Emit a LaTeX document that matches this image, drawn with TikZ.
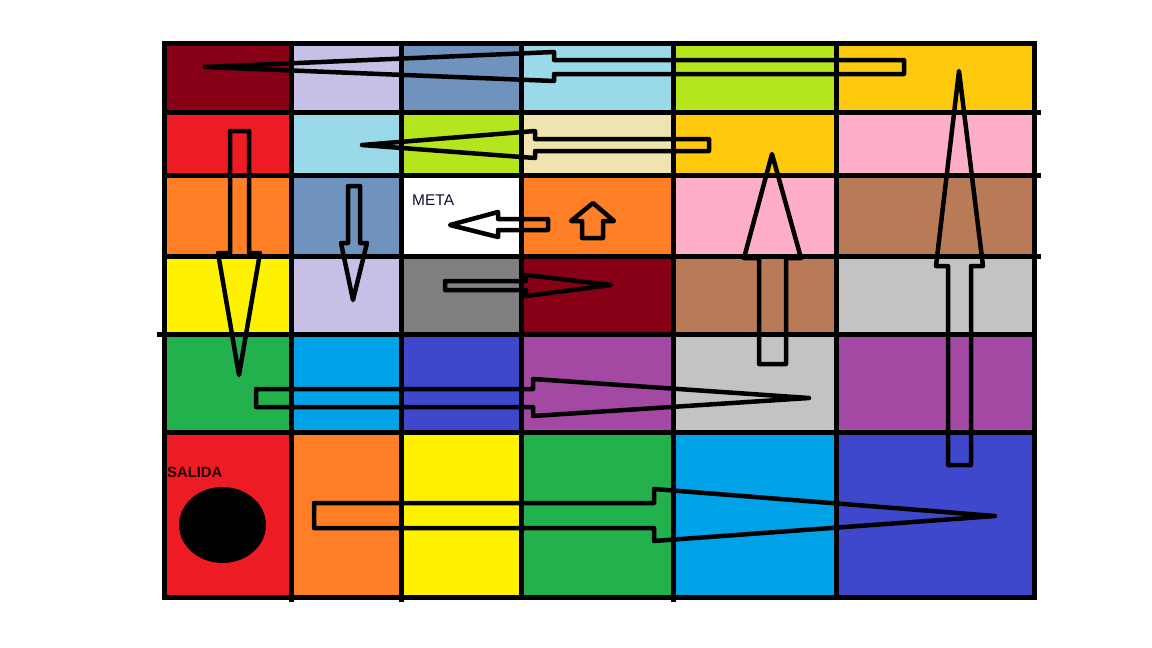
\documentclass[tikz,border=0pt]{standalone}
\usepackage{fontspec}
\setmainfont{Liberation Sans}
\definecolor{cDarkRed}{HTML}{880015}
\definecolor{cLavender}{HTML}{C8BFE7}
\definecolor{cBlueGray}{HTML}{7092BE}
\definecolor{cLTurq}{HTML}{99D9EA}
\definecolor{cLime}{HTML}{B5E61D}
\definecolor{cGold}{HTML}{FFC90E}
\definecolor{cRed}{HTML}{ED1C24}
\definecolor{cLYellow}{HTML}{EFE4B0}
\definecolor{cPink}{HTML}{FFAEC9}
\definecolor{cOrange}{HTML}{FF7F27}
\definecolor{cBrown}{HTML}{B97A57}
\definecolor{cYellow}{HTML}{FFF200}
\definecolor{cGray}{HTML}{7F7F7F}
\definecolor{cLGray}{HTML}{C3C3C3}
\definecolor{cGreen}{HTML}{22B14C}
\definecolor{cTurq}{HTML}{00A2E8}
\definecolor{cIndigo}{HTML}{3F48CC}
\definecolor{cPurple}{HTML}{A349A4}
\begin{document}
\begin{tikzpicture}[x=1pt,y=-1pt,
  gridline/.style={draw=black,line width=5pt},
  blockarrow/.style={draw=black,line width=4.5pt,line join=round}]
\useasboundingbox (0,0) rectangle (1152,648);
\fill[white] (0,0) rectangle (1152,648);
% row 1
\fill[cDarkRed]  (164.5,43.5) rectangle (291,112.5);
\fill[cLavender] (291,43.5) rectangle (401,112.5);
\fill[cBlueGray] (401,43.5) rectangle (521,112.5);
\fill[cLTurq]    (521,43.5) rectangle (673.5,112.5);
\fill[cLime]     (673.5,43.5) rectangle (836.5,112.5);
\fill[cGold]     (836.5,43.5) rectangle (1034,112.5);
% row 2
\fill[cRed]      (164.5,112.5) rectangle (291,175);
\fill[cLTurq]    (291,112.5) rectangle (401,175);
\fill[cLime]     (401,112.5) rectangle (521,175);
\fill[cLYellow]  (521,112.5) rectangle (673.5,175);
\fill[cGold]     (673.5,112.5) rectangle (836.5,175);
\fill[cPink]     (836.5,112.5) rectangle (1034,175);
% row 3
\fill[cOrange]   (164.5,175) rectangle (291,256);
\fill[cBlueGray] (291,175) rectangle (401,256);
\fill[white]     (401,175) rectangle (521,256);
\fill[cOrange]   (521,175) rectangle (673.5,256);
\fill[cPink]     (673.5,175) rectangle (836.5,256);
\fill[cBrown]    (836.5,175) rectangle (1034,256);
% row 4
\fill[cYellow]   (164.5,256) rectangle (291,334.5);
\fill[cLavender] (291,256) rectangle (401,334.5);
\fill[cGray]     (401,256) rectangle (521,334.5);
\fill[cDarkRed]  (521,256) rectangle (673.5,334.5);
\fill[cBrown]    (673.5,256) rectangle (836.5,334.5);
\fill[cLGray]    (836.5,256) rectangle (1034,334.5);
% row 5
\fill[cGreen]    (164.5,334.5) rectangle (291,432.5);
\fill[cTurq]     (291,334.5) rectangle (401,432.5);
\fill[cIndigo]   (401,334.5) rectangle (521,432.5);
\fill[cPurple]   (521,334.5) rectangle (673.5,432.5);
\fill[cLGray]    (673.5,334.5) rectangle (836.5,432.5);
\fill[cPurple]   (836.5,334.5) rectangle (1034,432.5);
% row 6
\fill[cRed]      (164.5,432.5) rectangle (291,597.5);
\fill[cOrange]   (291,432.5) rectangle (401,597.5);
\fill[cYellow]   (401,432.5) rectangle (521,597.5);
\fill[cGreen]    (521,432.5) rectangle (673.5,597.5);
\fill[cTurq]     (673.5,432.5) rectangle (836.5,597.5);
\fill[cIndigo]   (836.5,432.5) rectangle (1034,597.5);
% grid lines
\draw[gridline] (164.5,43.5) rectangle (1034,597.5);
\foreach \x in {291,401,673.5} \draw[gridline] (\x,43.5) -- (\x,602);
\foreach \x in {521,836.5} \draw[gridline] (\x,43.5) -- (\x,597.5);
\foreach \y in {112.5,175,256} \draw[gridline] (164.5,\y) -- (1041,\y);
\draw[gridline] (157,334.5) -- (1034,334.5);
\draw[gridline] (164.5,432.5) -- (1034,432.5);
% arrows
\draw[blockarrow] (205,67) -- (554,52) -- (554,60) -- (904,60) -- (904,74) -- (554,74) -- (554,81) -- cycle;
\draw[blockarrow] (362,145) -- (535,131) -- (535,139) -- (709,139) -- (709,151) -- (535,151) -- (535,158) -- cycle;
\draw[blockarrow] (450,225) -- (498,212) -- (498,219) -- (548,219) -- (548,230) -- (498,230) -- (498,237) -- cycle;
\draw[blockarrow] (593,203) -- (614,221) -- (603,221) -- (603,238) -- (582,238) -- (582,221) -- (571,221) -- cycle;
\draw[blockarrow] (230,131) -- (249,131) -- (249,253) -- (260,253) -- (239,375) -- (218,253) -- (230,253) -- cycle;
\draw[blockarrow] (348,186) -- (360,186) -- (360,243) -- (367,243) -- (353,300) -- (341,243) -- (348,243) -- cycle;
\draw[blockarrow] (445,281) -- (526,281) -- (526,275) -- (611,285) -- (526,296) -- (526,290) -- (445,290) -- cycle;
\draw[blockarrow] (256,389) -- (533,389) -- (533,379) -- (809,398) -- (533,416) -- (533,407) -- (256,407) -- cycle;
\draw[blockarrow] (314,503) -- (654,503) -- (654,489) -- (995,516) -- (654,541) -- (654,528) -- (314,528) -- cycle;
\draw[blockarrow] (772,154) -- (801,258) -- (786,258) -- (786,364) -- (759,364) -- (759,258) -- (744,258) -- cycle;
\draw[blockarrow] (959,71) -- (983,266) -- (971,266) -- (971,465) -- (948,465) -- (948,266) -- (936,266) -- cycle;
% labels
\node[anchor=base west,inner sep=0pt,font=\fontsize{15.5}{18}\selectfont,text={rgb,255:red,15;green,15;blue,50}] (meta) at (412,205) {META};
\node[anchor=base west,inner sep=0pt,font=\bfseries\fontsize{14.8}{18}\selectfont,text={rgb,255:red,30;green,0;blue,0}] (salida) at (167,477) {SALIDA};
\fill[black] (222.5,525) ellipse [x radius=43.5, y radius=38];
\end{tikzpicture}
\end{document}
